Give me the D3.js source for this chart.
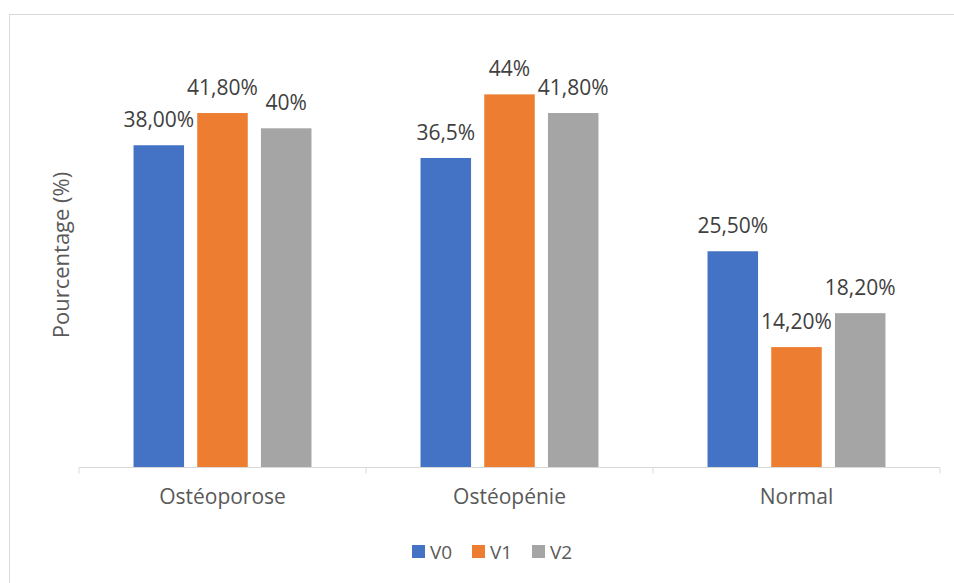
<!DOCTYPE html>
<html>
<head>
<meta charset="utf-8">
<script src="https://cdn.jsdelivr.net/npm/d3@7"></script>
<style>
  body { margin: 0; background: #fff; }
  svg { display: block; font-family: "Open Sans", sans-serif; }
</style>
</head>
<body>
<svg></svg>
<script>
  // chart data
  var categories = ['Ostéoporose', 'Ostéopénie', 'Normal'];
  var series = ['V0', 'V1', 'V2'];
  var v0 = [38.0, 36.5, 25.5];
  var v1 = [41.8, 44.0, 14.2];
  var v2 = [40.0, 41.8, 18.2];
  var labelsV0 = ['38,00%', '36,5%', '25,50%'];
  var labelsV1 = ['41,80%', '44%', '14,20%'];
  var labelsV2 = ['40%', '41,80%', '18,20%'];
  var colors = ['#4472c4', '#ed7d31', '#a5a5a5'];

  var width = 954, height = 583;
  // plot area
  var plotLeft = 79, plotRight = 940, plotTop = 43.5, plotBottom = 467.5;

  var svg = d3.select('svg')
    .attr('width', width)
    .attr('height', height);

  // chart border
  svg.append('rect')
    .attr('x', 9.5).attr('y', 14.5)
    .attr('width', 960).attr('height', 600)
    .attr('fill', 'none')
    .attr('stroke', '#d9d9d9');

  var x0 = d3.scaleBand().domain(categories).range([plotLeft, plotRight]);
  var x1 = d3.scaleBand().domain(series)
    .range([0, x0.bandwidth()])
    .paddingInner(0.207)
    .paddingOuter(0.856);
  var y = d3.scaleLinear().domain([0, 50]).range([plotBottom, plotTop]);

  var rows = categories.map(function (c, i) {
    return [
      {cat: c, s: 'V0', v: v0[i], label: labelsV0[i]},
      {cat: c, s: 'V1', v: v1[i], label: labelsV1[i]},
      {cat: c, s: 'V2', v: v2[i], label: labelsV2[i]}
    ];
  });
  var color = d3.scaleOrdinal().domain(series).range(colors);

  var groups = svg.selectAll('g.grp')
    .data(rows)
    .enter().append('g')
      .attr('class', 'grp')
      .attr('transform', function (d) { return 'translate(' + x0(d[0].cat) + ',0)'; });

  groups.selectAll('rect')
    .data(function (d) { return d; })
    .enter().append('rect')
      .attr('x', function (d) { return x1(d.s); })
      .attr('y', function (d) { return y(d.v); })
      .attr('width', x1.bandwidth())
      .attr('height', function (d) { return y(0) - y(d.v); })
      .attr('fill', function (d) { return color(d.s); });

  groups.selectAll('text')
    .data(function (d) { return d; })
    .enter().append('text')
      .attr('x', function (d) { return x1(d.s) + x1.bandwidth() / 2; })
      .attr('y', function (d) { return y(d.v) - 18; })
      .attr('text-anchor', 'middle')
      .attr('font-size', 21)
      .attr('fill', '#404040')
      .text(function (d) { return d.label; });

  // x axis
  var xAxis = svg.append('g')
    .attr('transform', 'translate(0,' + plotBottom + ')')
    .call(d3.axisBottom(x0).tickSize(0).tickPadding(22));
  xAxis.select('.domain').remove();
  xAxis.append('line')
    .attr('x1', plotLeft).attr('x2', plotRight)
    .attr('stroke', '#d9d9d9');
  xAxis.selectAll('.sep')
    .data(d3.range(categories.length + 1))
    .enter().append('line')
      .attr('class', 'sep')
      .attr('x1', function (i) { return plotLeft + i * x0.step(); })
      .attr('x2', function (i) { return plotLeft + i * x0.step(); })
      .attr('y1', 0).attr('y2', 6)
      .attr('stroke', '#d9d9d9');
  xAxis.selectAll('.tick text')
    .attr('font-family', '"Open Sans", sans-serif')
    .attr('font-size', 21)
    .attr('fill', '#595959');

  // y title
  svg.append('text')
    .attr('transform', 'translate(69,255) rotate(-90)')
    .attr('text-anchor', 'middle')
    .attr('font-size', 22)
    .attr('fill', '#595959')
    .text('Pourcentage (%)');

  // legend
  var legend = svg.append('g').attr('transform', 'translate(412,545)');
  var legX = [0, 60, 120];
  series.forEach(function (s, i) {
    legend.append('rect')
      .attr('x', legX[i]).attr('y', 0)
      .attr('width', 13).attr('height', 13)
      .attr('fill', color(s));
    legend.append('text')
      .attr('x', legX[i] + 18).attr('y', 14)
      .attr('font-size', 19)
      .attr('fill', '#595959')
      .text(s);
  });
</script>
</body>
</html>
